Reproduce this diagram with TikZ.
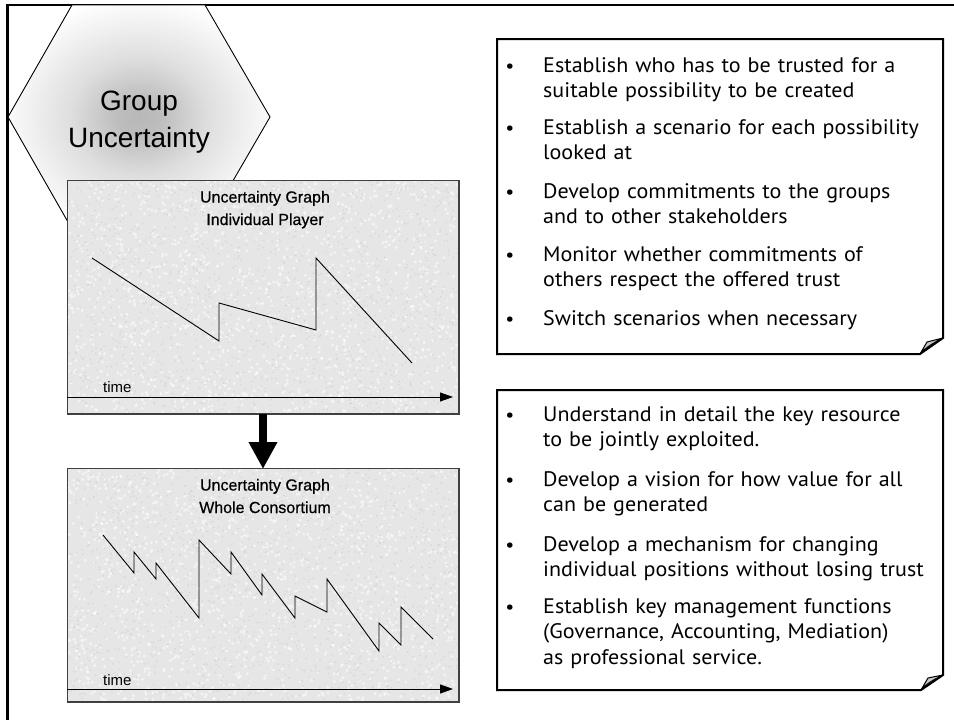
\documentclass[tikz,border=0pt]{standalone}
\usepackage{fontspec}
\setmainfont{Liberation Sans}
\newfontfamily\bodyfont[FakeStretch=1.05]{PT Sans}
\newfontfamily\titlefont[FakeBold=0.5]{Liberation Sans}
\usetikzlibrary{arrows.meta}

\definecolor{panelgray}{HTML}{E6E6E6}
\definecolor{speckdark}{HTML}{D4D4D4}
\definecolor{folds}{HTML}{C8C8C8}

\pgfdeclareradialshading{hexglow}{\pgfpoint{0bp}{0bp}}{%
  color(0bp)=(black!28); color(4bp)=(black!26); color(13bp)=(black!13); color(27bp)=(white); color(50bp)=(white)}

\tikzset{
  frameline/.style={line width=2.5pt, line cap=rect},
  hexshape/.style={draw=black, line width=0.9pt, shading=hexglow},
  panel/.style={draw=black!75, line width=1pt, fill=panelgray, inner sep=0pt,
                anchor=north west, minimum width=391pt, minimum height=233pt},
  paneltitle/.style={font=\titlefont\fontsize{16}{22.5}\selectfont, align=center, inner sep=0pt, anchor=base},
  timelabel/.style={font=\fontsize{15}{18}\selectfont, inner sep=0pt, anchor=base west},
  timeaxis/.style={line width=1pt, -{Triangle[width=9pt,length=13pt]}},
  curve/.style={line width=0.9pt, line join=miter},
  bigarrow/.style={line width=8pt, -{Triangle[width=27pt,length=27pt]}, shorten >=-1pt},
  notebox/.style={line width=2pt, fill=white, line join=miter},
  foldcorner/.style={line width=1pt, fill=folds, line join=round},
  item/.style={font=\bodyfont\fontsize{21}{25.5}\selectfont, text width=400pt,
               inner sep=0pt, anchor=base west, align=left},
  dot/.style={font=\bodyfont\fontsize{19}{22}\selectfont, inner sep=0pt, anchor=base}
}

% soft mottled texture inside a panel
\newcommand{\speckle}[4]{% x, y, w, h
  \begin{scope}
    \clip (#1,#2) rectangle ++(#3,#4);
    \foreach \k in {1,...,1400}{
      \fill[white, opacity=0.55] ({#1+#3*rnd},{#2+#4*rnd}) circle (1.6);
    }
    \foreach \k in {1,...,1400}{
      \fill[speckdark, opacity=0.8] ({#1+#3*rnd},{#2+#4*rnd}) circle (0.9);
    }
  \end{scope}
}

\begin{document}
\begin{tikzpicture}[x=1pt, y=-1pt]
  \useasboundingbox (0,0) rectangle (954,720);
  \pgfmathsetseed{7}

  % page frame (open to the right and bottom)
  \draw[frameline] (7.5,725) -- (7.5,5) -- (960,5);

  % hexagon label
  \path[hexshape] (72,5) -- (205,5) -- (270,117) -- (205,229) -- (72,229) -- (8,117) -- cycle;
  \node[font=\fontsize{28}{37}\selectfont, align=center, inner sep=0pt, anchor=base]
    (hexlabel) at (139,147) {Group\\Uncertainty};

  % upper panel: individual player
  \node[panel] (g1) at (67,180) {};
  \speckle{67.5}{180.5}{390}{232}
  \draw[draw=black!75, line width=1pt] (g1.north west) rectangle (g1.south east);
  \node[paneltitle] (g1title) at (265,225) {Uncertainty Graph\\Individual Player};
  \coordinate (t1s) at (67,397);
  \coordinate (t1e) at (453,397);
  \draw[timeaxis] (t1s) -- (t1e);
  \node[timelabel] (t1lab) at (103,392) {time};
  \draw[curve] (92,258) -- (219,341) -- (219,303) -- (316,330) -- (316,258) -- (412,363);

  % lower panel: whole consortium
  \node[panel] (g2) at (67,468) {};
  \speckle{67.5}{468.5}{390}{232}
  \draw[draw=black!75, line width=1pt] (g2.north west) rectangle (g2.south east);
  \node[paneltitle] (g2title) at (265,513) {Uncertainty Graph\\Whole Consortium};
  \coordinate (t2s) at (67,689);
  \coordinate (t2e) at (453,689);
  \draw[timeaxis] (t2s) -- (t2e);
  \node[timelabel] (t2lab) at (103,685) {time};
  \draw[curve] (103,535) -- (134,573) -- (134,552) -- (156,579) -- (156,563) -- (199,618)
    -- (199,540) -- (231,574) -- (231,552) -- (262,595) -- (262,574) -- (295,618)
    -- (295,596) -- (327,612) -- (327,579) -- (379,651) -- (379,623) -- (401,645)
    -- (401,607) -- (433,639);

  % arrow from individual to consortium
  \draw[bigarrow] (g1.south) -- (g2.north);

  % upper note
  \draw[notebox] (497,39) -- (943,39) -- (943,338) -- (920,354) -- (497,354) -- cycle;
  \draw[foldcorner] (920,354) -- (927,342) -- (943,338) .. controls (933,343) and (925,348) .. cycle;
  \node[dot] (a1d) at (510,72) {•};
  \node[item] (a1) at (543,72) {Establish who has to be trusted for a\\suitable possibility to be created};
  \node[dot] (a2d) at (510,134) {•};
  \node[item] (a2) at (543,134) {Establish a scenario for each possibility\\looked at};
  \node[dot] (a3d) at (510,198) {•};
  \node[item] (a3) at (543,198) {Develop commitments to the groups\\and to other stakeholders};
  \node[dot] (a4d) at (510,261) {•};
  \node[item] (a4) at (543,261) {Monitor whether commitments of\\others respect the offered trust};
  \node[dot] (a5d) at (510,325) {•};
  \node[item] (a5) at (543,325) {Switch scenarios when necessary};

  % lower note
  \draw[notebox] (497,390) -- (943,390) -- (943,675) -- (921,690) -- (497,690) -- cycle;
  \draw[foldcorner] (921,690) -- (928,678) -- (943,675) .. controls (933,680) and (926,684) .. cycle;
  \node[dot] (b1d) at (510,421) {•};
  \node[item] (b1) at (543,421) {Understand in detail the key resource\\to be jointly exploited.};
  \node[dot] (b2d) at (510,486) {•};
  \node[item] (b2) at (543,486) {Develop a vision for how value for all\\can be generated};
  \node[dot] (b3d) at (510,551) {•};
  \node[item] (b3) at (543,551) {Develop a mechanism for changing\\individual positions without losing trust};
  \node[dot] (b4d) at (510,613) {•};
  \node[item] (b4) at (543,613) {Establish key management functions\\(Governance, Accounting, Mediation)\\as professional service.};
\end{tikzpicture}
\end{document}
